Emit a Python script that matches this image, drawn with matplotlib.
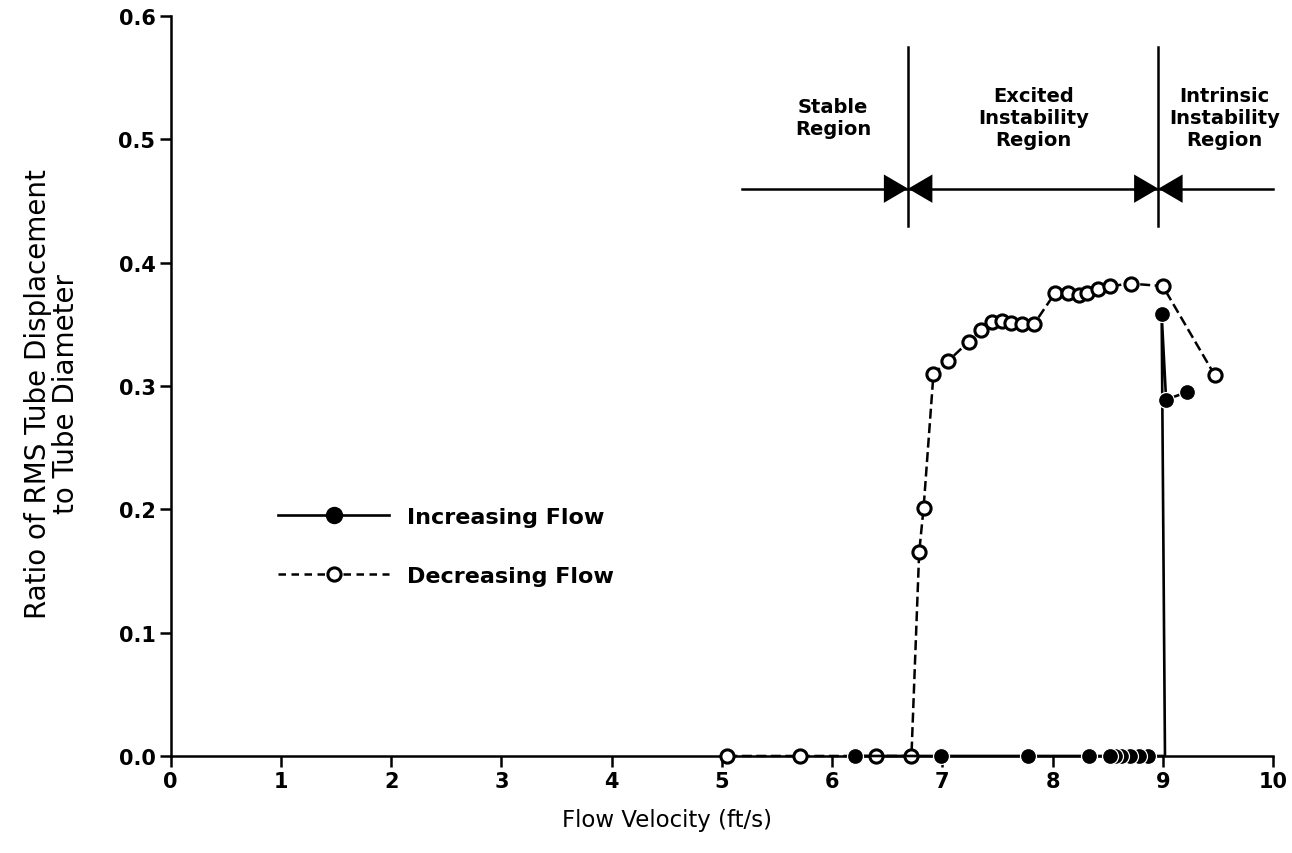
import matplotlib
matplotlib.use('Agg')
import matplotlib.pyplot as plt
from matplotlib.lines import Line2D

# ---------------- data ----------------
# Increasing flow (filled circles, solid line)
inc_x = [6.21, 6.99, 7.78, 8.33, 8.52, 8.57, 8.62, 8.70, 8.78, 8.87, 9.02, 8.99, 9.03, 9.22]
inc_y = [0.0, 0.0, 0.0, 0.0, 0.0, 0.0, 0.0, 0.0, 0.0, 0.0, 0.0, 0.358, 0.289, 0.295]
inc_marker = [True] * 10 + [False, True, True, True]

# Decreasing flow (open circles, dashed line)
dec_x = [5.05, 5.71, 6.40, 6.72, 6.79, 6.83, 6.92, 7.05, 7.24, 7.35, 7.45, 7.54,
         7.62, 7.72, 7.83, 8.02, 8.14, 8.24, 8.31, 8.41, 8.52, 8.71, 9.00, 9.47]
dec_y = [0.0, 0.0, 0.0, 0.0, 0.165, 0.201, 0.310, 0.320, 0.336, 0.345, 0.352, 0.353,
         0.351, 0.350, 0.350, 0.375, 0.375, 0.374, 0.375, 0.379, 0.381, 0.383, 0.381, 0.309]

# Region annotation
region_bounds = [6.69, 8.96]
region_labels = ["Stable\nRegion", "Excited\nInstability\nRegion", "Intrinsic\nInstability\nRegion"]
region_label_x = [6.01, 7.83, 9.56]

x_ticks = list(range(0, 11))
y_ticks = [0.0, 0.1, 0.2, 0.3, 0.4, 0.5, 0.6]
series_labels = ["Increasing Flow", "Decreasing Flow"]

# ---------------- figure ----------------
plt.rcParams['font.family'] = ['DejaVu Sans']
fig = plt.figure(figsize=(12.92, 8.54), dpi=100)
ax = fig.add_axes([0.1321, 0.1136, 0.8532, 0.8665])
ax.set_xlim(0, 10)
ax.set_ylim(0, 0.6)

for s in ['top', 'right']:
    ax.spines[s].set_visible(False)
for s in ['left', 'bottom']:
    ax.spines[s].set_linewidth(1.8)

ax.set_xticks(x_ticks)
ax.set_yticks(y_ticks)
ax.set_xticklabels([str(v) for v in x_ticks])
ax.set_yticklabels([f"{v:.1f}" for v in y_ticks])
ax.tick_params(direction='out', length=8, width=1.8, labelsize=15, pad=3)
for lab in ax.get_xticklabels() + ax.get_yticklabels():
    lab.set_fontweight('bold')

# decreasing flow
ax.plot(dec_x, dec_y, color='black', lw=1.8, ls=(0, (4, 1.8)),
        marker='o', ms=9.5, mfc='white', mec='black', mew=2.2,
        clip_on=False, zorder=3)

# increasing flow: line, then markers drawn right-to-left (leftmost on top)
ax.plot(inc_x, inc_y, color='black', lw=1.9, clip_on=False, zorder=4)
mx = [x for x, m in zip(inc_x, inc_marker) if m][::-1]
my = [y for y, m in zip(inc_y, inc_marker) if m][::-1]
ax.plot(mx, my, ls='none', marker='o', ms=11.5, mfc='black', mec='white', mew=0.9,
        clip_on=False, zorder=5)

# region annotation
bar_y = 0.46
ax.plot([5.18, 10.0], [bar_y, bar_y], color='black', lw=1.8, clip_on=False)
for b in region_bounds:
    ax.plot([b, b], [0.43, 0.575], color='black', lw=1.8)
    tw, th = 0.22, 0.0115
    ax.fill([b - tw, b, b - tw], [bar_y - th, bar_y, bar_y + th], color='black', lw=0)
    ax.fill([b + tw, b, b + tw], [bar_y - th, bar_y, bar_y + th], color='black', lw=0)
for lx, txt in zip(region_label_x, region_labels):
    ax.text(lx, 0.518, txt, ha='center', va='center', fontsize=14,
            fontweight='bold', linespacing=1.2)

# axis labels
ax.set_xlabel("Flow Velocity (ft/s)", fontsize=16.5)
ax.xaxis.set_label_coords(0.45, -0.07)
ax.set_ylabel("Ratio of RMS Tube Displacement\nto Tube Diameter", fontsize=20,
              linespacing=1.0)
ax.yaxis.set_label_coords(-0.082, 0.49)

# legend
handles = [
    Line2D([], [], color='black', lw=1.9, marker='o', ms=11.5, mfc='black', mec='black'),
    Line2D([], [], color='black', lw=1.8, ls=(0, (3, 2.2)), marker='o', ms=9.5,
           mfc='white', mec='black', mew=2.2),
]
ax.legend(handles, series_labels, loc='upper left',
          bbox_to_anchor=(278 / 1292, 1 - 508 / 854), bbox_transform=fig.transFigure,
          frameon=False, handlelength=5.0, handletextpad=0.8, labelspacing=1.75,
          borderpad=0, borderaxespad=0, prop=dict(size=16, weight='bold'))

fig.savefig('out.png', dpi=100)
